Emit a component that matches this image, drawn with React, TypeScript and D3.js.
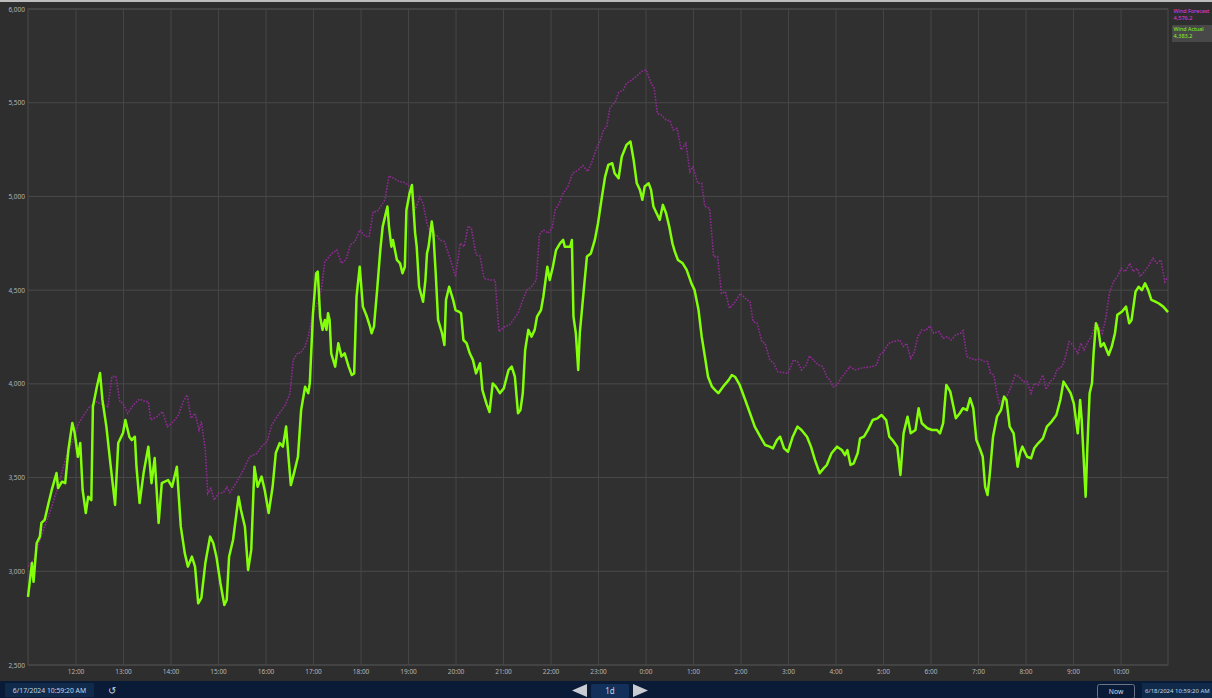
import React from "react";
import * as d3 from "d3";

// minutes after the window start (6/17/2024 10:59:20 AM), MW
const windowStart = new Date(2024, 5, 17, 10, 59, 20);
const windowMinutes = 1440;

const windActual: [number, number][] = [
  [0,2864],[5,3044],[7,2944],[11,3151],[15,3185],[17,3258],[21,3274],[26,3364],[30,3434],[36,3524],[38,3444],[43,3478],[47,3470],[49,3558],[51,3647],[56,3791],[59,3738],[63,3611],[66,3684],[69,3434],[73,3311],[76,3398],[80,3380],[82,3878],[87,3985],[91,4058],[94,3914],[99,3772],[104,3578],[110,3354],[114,3684],[120,3738],[123,3807],[128,3718],[131,3700],[135,3718],[137,3558],[141,3364],[146,3524],[152,3665],[156,3470],[160,3604],[165,3258],[169,3470],[177,3487],[182,3451],[188,3558],[193,3238],[198,3097],[202,3025],[207,3078],[211,3025],[215,2829],[219,2858],[224,3044],[230,3185],[234,3151],[238,3078],[243,2938],[248,2820],[251,2847],[254,3078],[259,3167],[266,3398],[269,3327],[274,3238],[278,3007],[282,3114],[286,3558],[290,3451],[295,3505],[299,3434],[304,3311],[309,3451],[313,3631],[318,3684],[322,3665],[326,3772],[329,3611],[332,3460],[336,3524],[341,3611],[345,3860],[350,3985],[354,3950],[356,4005],[360,4378],[364,4590],[366,4599],[369,4359],[372,4288],[375,4341],[377,4288],[379,4377],[381,4341],[383,4163],[388,4092],[392,4217],[396,4146],[400,4163],[405,4092],[409,4047],[412,4056],[415,4466],[419,4625],[423,4412],[428,4359],[432,4305],[434,4270],[437,4305],[441,4500],[445,4714],[448,4839],[454,4946],[456,4839],[459,4732],[461,4768],[466,4661],[470,4643],[473,4590],[476,4625],[478,4928],[482,5017],[485,5061],[489,4804],[491,4732],[494,4518],[499,4438],[502,4554],[504,4696],[506,4732],[510,4866],[512,4804],[515,4590],[518,4341],[523,4270],[526,4207],[528,4448],[532,4518],[537,4448],[540,4394],[544,4386],[547,4377],[550,4234],[554,4217],[558,4163],[562,4128],[566,4056],[571,4110],[574,3967],[579,3896],[583,3850],[587,4002],[591,3985],[596,3950],[601,3976],[607,4074],[611,4092],[615,4038],[619,3843],[622,3860],[625,3950],[628,4181],[632,4288],[636,4252],[640,4288],[643,4359],[648,4394],[651,4466],[656,4625],[659,4554],[663,4625],[667,4714],[672,4750],[676,4768],[678,4732],[685,4732],[687,4768],[689,4359],[692,4270],[695,4074],[697,4270],[702,4500],[706,4679],[711,4696],[716,4768],[720,4857],[725,4999],[729,5106],[733,5168],[738,5177],[741,5124],[746,5097],[750,5212],[756,5275],[761,5293],[765,5195],[769,5070],[773,5035],[776,4982],[779,5053],[784,5070],[787,5035],[790,4946],[794,4910],[798,4875],[802,4955],[806,4910],[810,4839],[814,4750],[817,4706],[821,4661],[827,4643],[832,4608],[838,4536],[842,4500],[847,4394],[851,4252],[855,4146],[859,4038],[864,3985],[868,3967],[872,3950],[878,3985],[885,4020],[889,4047],[893,4038],[899,3994],[906,3914],[912,3843],[918,3772],[925,3718],[931,3674],[937,3665],[941,3656],[946,3700],[950,3718],[955,3656],[960,3638],[966,3718],[972,3772],[977,3754],[984,3718],[989,3665],[994,3594],[1000,3523],[1005,3549],[1009,3567],[1015,3630],[1022,3665],[1028,3647],[1032,3620],[1035,3647],[1039,3567],[1043,3576],[1048,3630],[1051,3709],[1056,3718],[1061,3754],[1067,3807],[1073,3816],[1078,3834],[1084,3807],[1088,3718],[1092,3700],[1098,3665],[1102,3514],[1106,3736],[1111,3825],[1115,3736],[1121,3754],[1125,3870],[1129,3790],[1136,3763],[1142,3754],[1148,3754],[1152,3736],[1156,3790],[1160,3994],[1165,3958],[1169,3878],[1172,3816],[1177,3843],[1181,3870],[1186,3860],[1190,3923],[1194,3870],[1198,3700],[1203,3647],[1206,3611],[1209,3451],[1212,3407],[1215,3523],[1219,3718],[1224,3825],[1229,3860],[1233,3932],[1236,3914],[1240,3772],[1245,3736],[1250,3558],[1253,3630],[1256,3665],[1262,3611],[1267,3603],[1271,3656],[1276,3683],[1282,3709],[1287,3772],[1293,3799],[1299,3834],[1304,3914],[1308,4012],[1312,3985],[1317,3950],[1321,3896],[1326,3736],[1329,3914],[1331,3807],[1334,3558],[1336,3398],[1338,3647],[1341,3950],[1344,4003],[1346,4163],[1349,4323],[1352,4288],[1355,4199],[1359,4217],[1365,4154],[1369,4199],[1373,4270],[1376,4368],[1382,4386],[1387,4412],[1391,4323],[1394,4341],[1399,4492],[1403,4518],[1407,4500],[1411,4536],[1415,4500],[1419,4448],[1424,4439],[1428,4430],[1434,4412],[1440,4383],
];

const windForecast: [number, number][] = [
  [0,3025],[7,3060],[15,3167],[21,3238],[30,3345],[38,3451],[47,3594],[55,3683],[64,3790],[72,3843],[78,3878],[87,3905],[95,3887],[101,3878],[106,4038],[111,4041],[116,3905],[120,3896],[126,3843],[133,3887],[141,3919],[148,3905],[152,3905],[155,3807],[163,3825],[170,3852],[176,3772],[184,3799],[190,3834],[196,3905],[201,3941],[206,3816],[211,3843],[216,3754],[219,3799],[224,3647],[227,3416],[231,3443],[235,3380],[241,3416],[247,3420],[251,3449],[255,3420],[264,3478],[272,3540],[280,3611],[289,3629],[295,3665],[302,3692],[308,3781],[316,3834],[325,3887],[331,3950],[335,4128],[341,4167],[344,4163],[350,4199],[354,4252],[360,4377],[367,4448],[371,4518],[375,4652],[384,4696],[390,4714],[396,4643],[402,4664],[407,4741],[413,4759],[419,4821],[426,4786],[431,4786],[436,4919],[441,4919],[447,4955],[451,4982],[456,5110],[462,5097],[469,5079],[476,5074],[481,5056],[485,5056],[489,4928],[495,4999],[499,4964],[504,4857],[510,4786],[516,4795],[520,4768],[526,4759],[531,4697],[535,4643],[540,4572],[546,4750],[551,4732],[556,4842],[560,4830],[566,4688],[571,4682],[576,4563],[584,4554],[590,4554],[595,4279],[602,4305],[608,4314],[613,4341],[619,4377],[625,4448],[630,4500],[636,4518],[642,4554],[646,4795],[651,4821],[657,4804],[662,4830],[666,4928],[671,4964],[676,5017],[682,5052],[688,5124],[695,5141],[701,5165],[707,5133],[712,5180],[718,5255],[723,5301],[727,5355],[731,5373],[735,5471],[742,5506],[746,5554],[752,5568],[756,5604],[763,5622],[769,5643],[775,5666],[781,5675],[786,5613],[791,5577],[795,5443],[800,5434],[806,5408],[811,5404],[815,5355],[820,5363],[825,5248],[831,5283],[836,5132],[840,5159],[846,5070],[851,5070],[855,4946],[861,4937],[866,4679],[871,4679],[876,4483],[881,4492],[886,4403],[892,4430],[900,4483],[906,4456],[912,4438],[916,4332],[921,4323],[927,4225],[931,4216],[937,4128],[942,4110],[947,4065],[954,4060],[960,4056],[967,4128],[972,4119],[977,4074],[983,4101],[987,4149],[992,4128],[998,4101],[1004,4092],[1009,4038],[1013,4020],[1017,3985],[1022,3994],[1027,4030],[1032,4056],[1038,4092],[1045,4074],[1051,4083],[1059,4088],[1066,4092],[1072,4101],[1076,4154],[1081,4172],[1087,4216],[1093,4225],[1101,4234],[1106,4199],[1110,4216],[1115,4136],[1119,4163],[1124,4252],[1129,4288],[1134,4284],[1139,4309],[1144,4270],[1151,4279],[1156,4243],[1161,4252],[1166,4234],[1172,4261],[1178,4270],[1181,4284],[1186,4146],[1191,4136],[1196,4128],[1202,4132],[1208,4119],[1212,4119],[1216,4056],[1220,4047],[1224,3950],[1227,3896],[1232,3923],[1236,3932],[1241,3976],[1247,4047],[1252,4038],[1257,4012],[1262,4012],[1267,3950],[1271,4003],[1276,3994],[1282,4047],[1286,3970],[1291,4012],[1296,4030],[1300,4078],[1306,4092],[1310,4136],[1315,4225],[1320,4207],[1326,4163],[1330,4217],[1334,4181],[1338,4217],[1343,4252],[1348,4314],[1352,4314],[1357,4270],[1361,4341],[1366,4483],[1371,4545],[1376,4572],[1381,4616],[1386,4599],[1392,4643],[1396,4599],[1401,4616],[1405,4572],[1410,4599],[1415,4625],[1421,4670],[1426,4643],[1431,4661],[1436,4545],[1440,4572],
];

const yTicks = [2500, 3000, 3500, 4000, 4500, 5000, 5500, 6000];
const yDomain: [number, number] = [2500, 6000];

const legendItems = [
  { name: "Wind Forecast", value: "4,576.2", color: "#e03ae6", boxed: false },
  { name: "Wind Actual", value: "4,383.2", color: "#86f51c", boxed: true },
];

const startLabel = "6/17/2024 10:59:20 AM";
const endLabel = "6/18/2024 10:59:20 AM";
const rangeLabel = "1d";

const W = 1212;
const H = 698;
const plot = { left: 28, right: 1168, top: 9, bottom: 665 };
const FONT = "'Noto Sans', 'Open Sans', sans-serif";

export default function App() {
  const toDate = (m: number) => new Date(windowStart.getTime() + m * 60000);
  const x = d3
    .scaleTime()
    .domain([windowStart, toDate(windowMinutes)])
    .range([plot.left, plot.right]);
  const y = d3.scaleLinear().domain(yDomain).range([plot.bottom, plot.top]);

  const hourTicks = x
    .ticks(d3.timeHour.every(1) as d3.TimeInterval)
    .filter((d) => x(d) > plot.left + 10 && x(d) < plot.right - 10);
  const fmtHour = (d: Date) => `${d.getHours()}:00`;

  const line = d3
    .line<[number, number]>()
    .x((d) => x(toDate(d[0])))
    .y((d) => y(d[1]));

  return (
    <svg
      width={W}
      height={H}
      style={{ position: "absolute", left: 0, top: 0, display: "block" }}
      fontFamily={FONT}
    >
      <rect x={0} y={0} width={W} height={H} fill="#2e2e2e" />
      <rect x={0} y={0} width={W} height={2} fill="#bdbdbd" />
      <rect
        x={plot.left}
        y={plot.top}
        width={plot.right - plot.left}
        height={plot.bottom - plot.top}
        fill="#303030"
      />

      {/* grid */}
      {yTicks.map((t) => (
        <line
          key={"gy" + t}
          x1={plot.left}
          x2={plot.right}
          y1={y(t)}
          y2={y(t)}
          stroke="#4a4a4a"
          strokeWidth={1}
        />
      ))}
      {hourTicks.map((d) => (
        <line
          key={"gx" + d.getTime()}
          x1={x(d)}
          x2={x(d)}
          y1={plot.top}
          y2={plot.bottom}
          stroke="#474747"
          strokeWidth={1}
        />
      ))}
      <rect
        x={plot.left}
        y={plot.top}
        width={plot.right - plot.left}
        height={plot.bottom - plot.top}
        fill="none"
        stroke="#4a4a4a"
      />

      {/* axis labels */}
      {yTicks.map((t) => (
        <text
          key={"ly" + t}
          x={plot.left - 3}
          y={y(t) + 2.5}
          textAnchor="end"
          fontSize={6.5}
          fill="#b4b4b4"
        >
          {d3.format(",")(t)}
        </text>
      ))}
      {hourTicks.map((d) => (
        <text
          key={"lx" + d.getTime()}
          x={x(d)}
          y={plot.bottom + 8.5}
          textAnchor="middle"
          fontSize={6.5}
          fill="#b4b4b4"
        >
          {fmtHour(d)}
        </text>
      ))}

      {/* series */}
      <path
        d={line(windForecast) || ""}
        fill="none"
        stroke="#8e2a93"
        strokeWidth={1.6}
        strokeDasharray="1.6 1.4"
      />
      <path
        d={line(windActual) || ""}
        fill="none"
        stroke="#84ff0a"
        strokeWidth={2.5}
        strokeLinejoin="round"
      />

      {/* legend */}
      {legendItems.map((it, i) => {
        const top = 8 + i * 18;
        return (
          <g key={it.name}>
            {it.boxed && (
              <rect x={1172} y={top - 1} width={40} height={17} fill="#484848" />
            )}
            <text x={1173.5} y={top + 5} fontSize={5.4} fill={it.color}>
              {it.name}
            </text>
            <text x={1173.5} y={top + 12} fontSize={5.6} fill={it.color}>
              {it.value}
            </text>
          </g>
        );
      })}

      {/* bottom navigation bar */}
      <rect x={0} y={681} width={W} height={H - 681} fill="#0a1b38" />
      <rect x={5} y={683} width={89} height={14} fill="#0f2a4a" />
      <text x={49.5} y={692.5} textAnchor="middle" fontSize={6.8} fill="#c9d3e0">
        {startLabel}
      </text>
      <text x={112} y={694} textAnchor="middle" fontSize={10} fill="#c9d3e0">
        ↺
      </text>
      <path d="M572,690.5 L587,684 L587,697 Z" fill="#c9ccd2" />
      <rect x={591} y={684} width={38} height={14} rx={1.5} fill="#12305a" />
      <text x={610} y={693.5} textAnchor="middle" fontSize={8} fill="#c9d3e0">
        {rangeLabel}
      </text>
      <path d="M648,690.5 L633,684 L633,697 Z" fill="#c9ccd2" />
      <rect
        x={1097.5}
        y={684.5}
        width={37}
        height={14}
        rx={2}
        fill="#0a1b38"
        stroke="#6c7488"
      />
      <text x={1116} y={693.5} textAnchor="middle" fontSize={6.8} fill="#d8dde6">
        Now
      </text>
      <rect x={1142} y={683} width={70} height={15} fill="#0f2a4a" />
      <text x={1145} y={692.5} fontSize={6} fill="#c9d3e0">
        {endLabel}
      </text>
    </svg>
  );
}
